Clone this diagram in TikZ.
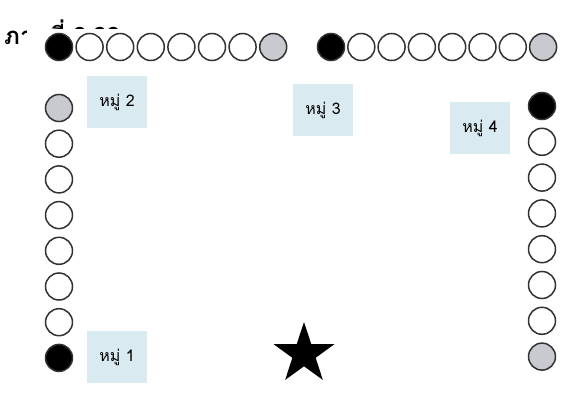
\documentclass[tikz,border=0pt]{standalone}
\usepackage{fontspec}
\usepackage{xcolor}
\usetikzlibrary{shapes.geometric}
\newfontfamily\thaifont[Script=Thai]{Loma}
\definecolor{grpblue}{RGB}{217,234,240}
\definecolor{seatgray}{RGB}{200,202,208}
\definecolor{seatline}{RGB}{50,50,50}

\begin{document}
\begin{tikzpicture}[x=1pt,y=-1pt,every node/.style={font=\thaifont\fontsize{16}{18}\selectfont},
      seat/.style={circle,draw=seatline,line width=1.5pt,minimum size=27pt,inner sep=0pt},
      grp/.style={fill=grpblue,minimum width=60pt,minimum height=52pt,inner sep=0pt}]
    \useasboundingbox (0,0) rectangle (576,415);
    % caption, mostly covered
    \node[anchor=base west,inner sep=0pt,font=\thaifont\bfseries\fontsize{24}{26}\selectfont] (cap) at (4,44) {ภาพที่ 2.22};
    \fill[white] (27,29) rectangle (576,415);
    % top row
    \foreach \i in {0,...,7}{
      \ifnum\i=0 \def\c{black}\else\ifnum\i=7 \def\c{seatgray}\else\def\c{white}\fi\fi
      \node[seat,fill=\c] (ta\i) at ({59+30.6*\i},47) {};
      \node[seat,fill=\c] (tb\i) at ({331+30.3*\i},47) {};
    }
    % left and right columns
    \foreach \i in {0,...,7}{
      \ifnum\i=0 \def\c{seatgray}\def\d{black}\else\ifnum\i=7 \def\c{black}\def\d{seatgray}\else\def\c{white}\def\d{white}\fi\fi
      \node[seat,fill=\c] (la\i) at (59,{108+35.7*\i}) {};
      \node[seat,fill=\d] (ra\i) at (542,{106+35.8*\i}) {};
    }
    % groups
    \node[grp] (g1) at (117,357) {หมู่ 1};
    \node[grp] (g2) at (117,102) {หมู่ 2};
    \node[grp] (g3) at (323,110) {หมู่ 3};
    \node[grp] (g4) at (480,128) {หมู่ 4};
    % teacher
    \node[star,star points=5,star point ratio=2.6,fill=black,minimum size=64pt,inner sep=0pt] (tc) at (304,354) {};
  \end{tikzpicture}
\end{document}
